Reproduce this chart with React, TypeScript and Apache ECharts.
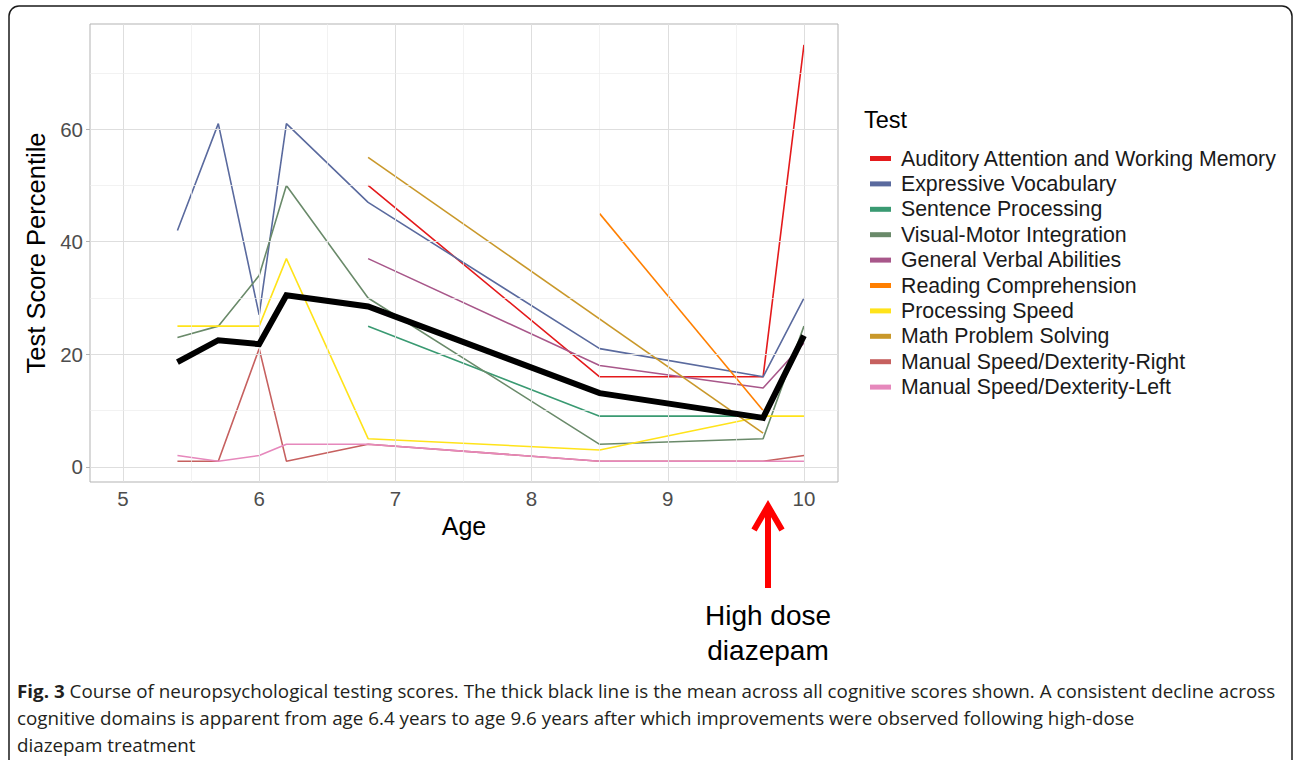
import React, { useEffect, useRef } from "react";
import * as echarts from "echarts";

const ages = [5.4, 5.7, 6.0, 6.2, 6.8, 8.5, 9.7, 10.0];

const testNames = [
  "Auditory Attention and Working Memory",
  "Expressive Vocabulary",
  "Sentence Processing",
  "Visual-Motor Integration",
  "General Verbal Abilities",
  "Reading Comprehension",
  "Processing Speed",
  "Math Problem Solving",
  "Manual Speed/Dexterity-Right",
  "Manual Speed/Dexterity-Left",
];

const testColors = [
  "#E41A1C",
  "#5A6A9E",
  "#3A9A72",
  "#6A8A6A",
  "#A8578A",
  "#FF7F00",
  "#FFE31A",
  "#C9982A",
  "#C6605F",
  "#E688BC",
];

const auditory = [null, null, null, null, 50, 16, 16, 75];
const expressive = [42, 61, 27, 61, 47, 21, 16, 30];
const sentence = [null, null, null, null, 25, 9, 9, null];
const visualMotor = [23, 25, 34, 50, 30, 4, 5, 25];
const verbal = [null, null, null, null, 37, 18, 14, 22];
const reading = [null, null, null, null, null, 45, 10, null];
const procSpeed = [25, 25, 25, 37, 5, 3, 9, 9];
const math = [null, null, null, null, 55, null, 6, null];
const manualRight = [1, 1, 21, 1, 4, 1, 1, 2];
const manualLeft = [2, 1, 2, 4, 4, 1, 1, 1];
const meanScore = [18.6, 22.5, 21.8, 30.5, 28.5, 13.1, 8.7, 23.3];

const testValues = [
  auditory,
  expressive,
  sentence,
  visualMotor,
  verbal,
  reading,
  procSpeed,
  math,
  manualRight,
  manualLeft,
];

const xTicks = [5, 6, 7, 8, 9, 10];
const xMinor = [5.5, 6.5, 7.5, 8.5, 9.5];
const yTicks = [0, 20, 40, 60];
const yMinor = [10, 30, 50, 70];

const caption1Bold = "Fig. 3";
const caption1 =
  " Course of neuropsychological testing scores. The thick black line is the mean across all cognitive scores shown. A consistent decline across";
const caption2 =
  "cognitive domains is apparent from age 6.4 years to age 9.6 years after which improvements were observed following high-dose";
const caption3 = "diazepam treatment";

function measure(text: string, font: string): number {
  const c = document.createElement("canvas");
  const ctx = c.getContext("2d");
  if (!ctx) return text.length * 8;
  ctx.font = font;
  return ctx.measureText(text).width;
}

export default function App() {
  const ref = useRef<HTMLDivElement>(null);

  useEffect(() => {
    document.body.style.margin = "0";
    if (!ref.current) return;
    const chart = echarts.init(ref.current, undefined, { renderer: "svg" });

    const plotFont = "Liberation Sans, Arial, sans-serif";
    const capFamily = "Open Sans, sans-serif";
    const capSize = 18;
    const wb = measure(caption1Bold, `bold ${capSize}px ${capFamily}`);
    const w1 = measure(caption1, `${capSize}px ${capFamily}`);
    const capScale = 1259 / (wb + w1);

    const pairs = (vals: (number | null)[]) =>
      ages.map((a, i) => [a, vals[i] === null ? null : vals[i]]);

    const gridLines: any[] = [];
    xTicks.forEach((v) =>
      gridLines.push({ xAxis: v, lineStyle: { color: "#DEDEDE", width: 1, type: "solid" } })
    );
    xMinor.forEach((v) =>
      gridLines.push({ xAxis: v, lineStyle: { color: "#EDEDED", width: 0.7, type: "solid" } })
    );
    yTicks.forEach((v) =>
      gridLines.push({ yAxis: v, lineStyle: { color: "#DEDEDE", width: 1, type: "solid" } })
    );
    yMinor.forEach((v) =>
      gridLines.push({ yAxis: v, lineStyle: { color: "#EDEDED", width: 0.7, type: "solid" } })
    );

    const series: any[] = [
      {
        name: "__grid",
        type: "line",
        data: [],
        z: 1,
        silent: true,
        markLine: {
          silent: true,
          symbol: "none",
          label: { show: false },
          animation: false,
          data: gridLines,
        },
      },
    ];

    testNames.forEach((name, i) => {
      series.push({
        name,
        type: "line",
        data: pairs(testValues[i]),
        connectNulls: true,
        showSymbol: false,
        symbol: "none",
        z: 3,
        color: testColors[i],
        lineStyle: { color: testColors[i], width: 1.6 },
      });
    });

    series.push({
      name: "Mean",
      type: "line",
      data: pairs(meanScore),
      showSymbol: false,
      symbol: "none",
      z: 5,
      color: "#000000",
      lineStyle: { color: "#000000", width: 6, join: "miter" },
    });

    const capY = [691, 718, 745];

    chart.setOption({
      animation: false,
      textStyle: { fontFamily: plotFont },
      grid: {
        left: 90,
        top: 24,
        width: 748,
        height: 458,
        show: true,
        borderColor: "#B3B3B3",
        borderWidth: 1,
        backgroundColor: "#FFFFFF",
      },
      xAxis: {
        type: "value",
        min: 4.758,
        max: 10.25,
        name: "Age",
        nameLocation: "middle",
        nameGap: 28,
        nameTextStyle: { fontSize: 25, color: "#000000", fontFamily: plotFont },
        axisLine: { show: false },
        splitLine: { show: false },
        axisTick: {
          show: true,
          customValues: xTicks,
          length: 4,
          lineStyle: { color: "#B3B3B3" },
        },
        axisLabel: {
          customValues: xTicks,
          fontSize: 20.5,
          color: "#4D4D4D",
          margin: 6,
          fontFamily: plotFont,
        },
      },
      yAxis: {
        type: "value",
        min: -2.7,
        max: 78.7,
        name: "Test Score Percentile",
        nameLocation: "middle",
        nameGap: 33,
        nameTextStyle: { fontSize: 25.5, color: "#000000", fontFamily: plotFont },
        axisLine: { show: false },
        splitLine: { show: false },
        axisTick: {
          show: true,
          customValues: yTicks,
          length: 4,
          lineStyle: { color: "#B3B3B3" },
        },
        axisLabel: {
          customValues: yTicks,
          fontSize: 20.5,
          color: "#4D4D4D",
          margin: 7,
          fontFamily: plotFont,
        },
      },
      legend: {
        data: testNames,
        orient: "vertical",
        left: 865,
        top: 143,
        icon: "rect",
        itemWidth: 21,
        itemHeight: 5,
        itemGap: 4.4,
        selectedMode: false,
        textStyle: {
          fontSize: 21.3,
          lineHeight: 21,
          color: "#1A1A1A",
          fontFamily: plotFont,
          padding: [0, 0, 0, 5],
        },
      },
      series,
      graphic: [
        {
          type: "rect",
          silent: true,
          z: -10,
          shape: { x: 9, y: 6, width: 1283, height: 820, r: 10 },
          style: { fill: "none", stroke: "#1A1A1A", lineWidth: 1.5 },
        },
        {
          type: "text",
          x: 864,
          y: 120,
          style: {
            text: "Test",
            fontSize: 23.5,
            fontFamily: plotFont,
            fill: "#000000",
            verticalAlign: "middle",
            align: "left",
          },
        },
        {
          type: "polyline",
          silent: true,
          shape: { points: [[768, 588], [768, 508]] },
          style: { stroke: "#FF0000", lineWidth: 6, fill: "none" },
        },
        {
          type: "polyline",
          silent: true,
          shape: { points: [[754, 530], [768, 506], [782, 530]] },
          style: { stroke: "#FF0000", lineWidth: 6, fill: "none", lineJoin: "miter" },
        },
        {
          type: "text",
          x: 768,
          y: 615,
          style: {
            text: "High dose",
            fontSize: 28,
            fontFamily: plotFont,
            fill: "#000000",
            align: "center",
            verticalAlign: "middle",
          },
        },
        {
          type: "text",
          x: 768,
          y: 650,
          style: {
            text: "diazepam",
            fontSize: 28,
            fontFamily: plotFont,
            fill: "#000000",
            align: "center",
            verticalAlign: "middle",
          },
        },
        {
          type: "text",
          x: 17,
          y: capY[0],
          scaleX: capScale,
          style: {
            text: caption1Bold,
            fontSize: capSize,
            fontWeight: "bold",
            fontFamily: capFamily,
            fill: "#231F20",
            verticalAlign: "middle",
          },
        },
        {
          type: "text",
          x: 17 + wb * capScale,
          y: capY[0],
          scaleX: capScale,
          style: {
            text: caption1,
            fontSize: capSize,
            fontFamily: capFamily,
            fill: "#231F20",
            verticalAlign: "middle",
          },
        },
        {
          type: "text",
          x: 17,
          y: capY[1],
          scaleX: capScale,
          style: {
            text: caption2,
            fontSize: capSize,
            fontFamily: capFamily,
            fill: "#231F20",
            verticalAlign: "middle",
          },
        },
        {
          type: "text",
          x: 17,
          y: capY[2],
          scaleX: capScale,
          style: {
            text: caption3,
            fontSize: capSize,
            fontFamily: capFamily,
            fill: "#231F20",
            verticalAlign: "middle",
          },
        },
      ],
    });

    return () => {
      chart.dispose();
    };
  }, []);

  return <div ref={ref} style={{ width: 1295, height: 760 }} />;
}
